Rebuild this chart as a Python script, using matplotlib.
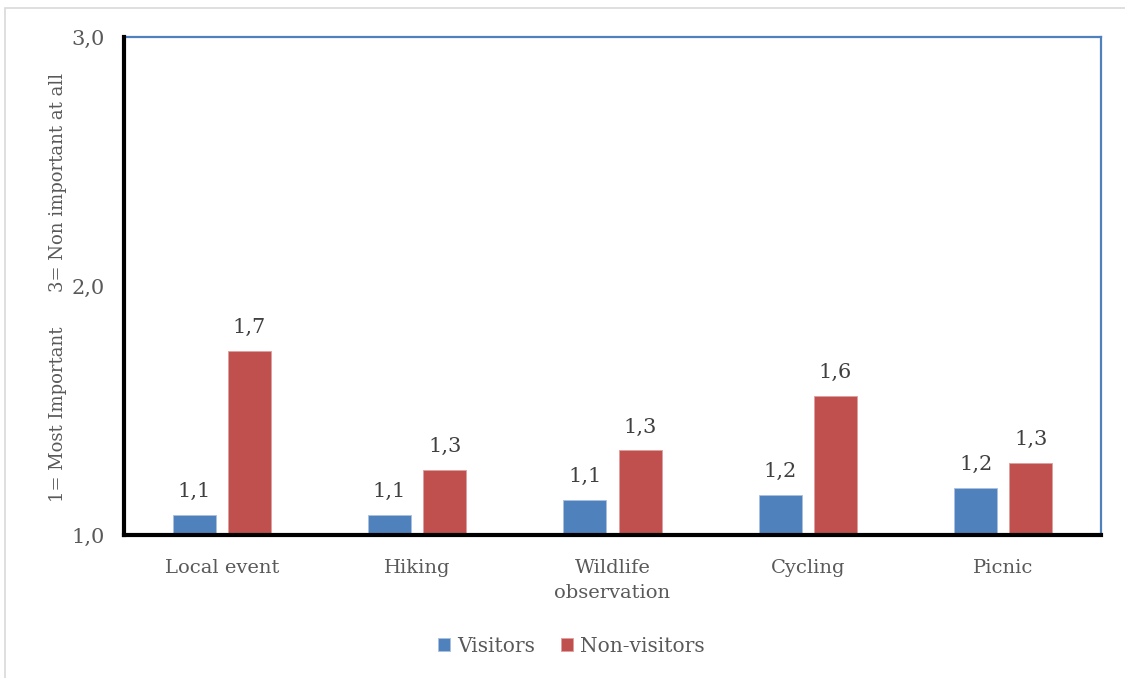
import matplotlib.pyplot as plt
import numpy as np
from matplotlib.patches import Rectangle

categories = ["Local event", "Hiking", "Wildlife\nobservation", "Cycling", "Picnic"]
visitors = [1.08, 1.08, 1.14, 1.16, 1.19]
non_visitors = [1.74, 1.26, 1.34, 1.56, 1.29]
series_names = ["Visitors", "Non-visitors"]
y_ticks = [1.0, 2.0, 3.0]

BLUE = "#4F81BD"
RED = "#C0504D"
TEXT = "#595959"
LABEL = "#404040"

plt.rcParams["font.family"] = ["DejaVu Serif"]

fig = plt.figure(figsize=(11.25, 6.78), dpi=100)
ax = fig.add_axes([124 / 1125, 1 - 535 / 678, (1101 - 124) / 1125, (535 - 37) / 678])

# light frame around the chart area
fig.patches.append(Rectangle((5 / 1125, -0.05), 1.2, 1 - 8 / 678 + 0.05,
                             transform=fig.transFigure, fill=False,
                             edgecolor="#D9D9D9", linewidth=1.2))

x = np.arange(len(categories))
w = 0.22
off = 0.141
b1 = ax.bar(x - off, np.array(visitors) - 1.0, w, bottom=1.0, color=BLUE,
            edgecolor="#A9C0DE", linewidth=0.6, label=series_names[0], zorder=2)
b2 = ax.bar(x + off, np.array(non_visitors) - 1.0, w, bottom=1.0, color=RED,
            edgecolor="#DE9F9D", linewidth=0.6, label=series_names[1], zorder=2)

for bars, vals in ((b1, visitors), (b2, non_visitors)):
    for rect, v in zip(bars, vals):
        ax.annotate(f"{v:.1f}".replace(".", ","),
                    (rect.get_x() + rect.get_width() / 2, v),
                    xytext=(0, 10), textcoords="offset points",
                    ha="center", va="bottom", fontsize=15, color=LABEL)

ax.set_xlim(-0.5, len(categories) - 0.5)
ax.set_ylim(1.0, 3.0)
ax.set_yticks(y_ticks)
ax.set_yticklabels([f"{t:.1f}".replace(".", ",") for t in y_ticks],
                   fontsize=15, color=TEXT)
ax.set_xticks(x)
ax.set_xticklabels(categories, fontsize=14, color=TEXT, linespacing=1.5)
ax.tick_params(axis="y", length=0, pad=14)
ax.tick_params(axis="x", length=0, pad=17)

for side in ("top", "right"):
    ax.spines[side].set_color(BLUE)
    ax.spines[side].set_linewidth(1.6)
for side in ("left", "bottom"):
    ax.spines[side].set_color("black")
    ax.spines[side].set_linewidth(3)
    ax.spines[side].set_zorder(3)

fig.text(58 / 1125, 1 - 414 / 678, "1= Most Important", rotation=90,
         ha="center", va="center", fontsize=13, color=TEXT)
fig.text(58 / 1125, 1 - 182 / 678, "3= Non important at all", rotation=90,
         ha="center", va="center", fontsize=13, color=TEXT)

fig.legend(handles=[b1, b2], labels=series_names, loc="center",
           bbox_to_anchor=(571 / 1125, 1 - 646 / 678), ncol=2, frameon=False,
           fontsize=14.5, handlelength=0.6, handleheight=0.6, handletextpad=0.35,
           columnspacing=1.3, labelcolor=TEXT)

fig.savefig("out.png", dpi=100, facecolor="white")
